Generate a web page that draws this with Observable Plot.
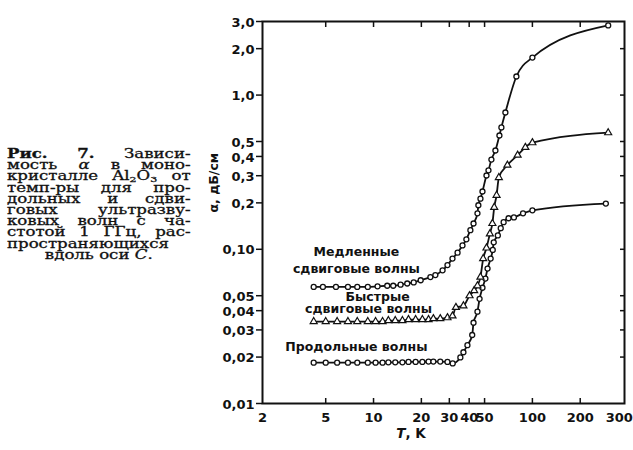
<!DOCTYPE html>
<html><head><meta charset="utf-8">
<script src="https://cdn.jsdelivr.net/npm/d3@7"></script>
<script src="https://cdn.jsdelivr.net/npm/@observablehq/plot@0.6"></script>
<style>
body{margin:0;background:#fff;}
#wrap{position:relative;width:633px;height:450px;overflow:hidden;background:#fff;}
#chart{position:absolute;left:0;top:0;}
#cap{position:absolute;left:7px;top:149px;font-family:"DejaVu Serif",serif;font-size:12px;color:#111;transform-origin:0 0;transform:scaleX(1.38);-webkit-text-stroke:0.3px #111;}
#cap div{width:133px;height:11.2px;line-height:11.2px;white-space:nowrap;text-align:justify;text-align-last:justify;}
#cap div.last{text-align:center;text-align-last:center;}
#cap .sb{font-size:8px;position:relative;top:2px;}
</style></head>
<body>
<div id="wrap"><div id="chart"></div><div id="cap"></div></div>
<script>
// --- data ---
const slowT = [4.2, 4.8, 5.8, 6.9, 7.9, 9.2, 10.6, 12.2, 13.3, 14.8, 16.3, 17.9, 19.8, 22.8, 24.5, 27.2, 29.2, 31.4, 33.8, 36.3, 38.4, 40.7, 42.6, 45.1, 45.7, 47.1, 48.5, 51.4, 52.9, 55.2, 58.5, 62.0, 63.8, 67.6, 79.3, 100, 300];
const slowA = [0.057, 0.057, 0.057, 0.057, 0.057, 0.057, 0.0575, 0.058, 0.058, 0.059, 0.060, 0.061, 0.063, 0.066, 0.068, 0.073, 0.079, 0.087, 0.095, 0.106, 0.116, 0.133, 0.147, 0.171, 0.193, 0.213, 0.237, 0.301, 0.325, 0.382, 0.437, 0.547, 0.617, 0.771, 1.32, 1.75, 2.83];

const fastT = [4.2, 5.0, 5.9, 6.9, 7.9, 9.2, 10.3, 11.4, 12.4, 13.7, 15.2, 16.6, 18.4, 20.3, 22.2, 23.8, 26.3, 29.2, 31.4, 33.0, 36.8, 40.2, 43.0, 45.1, 47.1, 49.0, 51.4, 54.0, 56.0, 57.5, 59.5, 61.5, 69.6, 80.7, 90.3, 100, 300];
const fastA = [0.034, 0.034, 0.034, 0.034, 0.034, 0.034, 0.034, 0.034, 0.0345, 0.0345, 0.0345, 0.035, 0.035, 0.035, 0.035, 0.0355, 0.0355, 0.036, 0.037, 0.042, 0.043, 0.050, 0.054, 0.058, 0.066, 0.087, 0.102, 0.126, 0.147, 0.187, 0.224, 0.292, 0.351, 0.408, 0.458, 0.491, 0.57];

const longT = [4.2, 5.0, 5.9, 6.9, 7.9, 9.2, 10.3, 11.4, 12.4, 13.7, 15.2, 16.6, 18.4, 20.3, 22.2, 23.8, 26.3, 29.2, 31.5, 35.2, 36.8, 39.0, 41.8, 42.6, 45.1, 46.5, 48.5, 50.6, 52.2, 54.6, 56.3, 57.1, 60.6, 63.2, 65.9, 70.8, 76.5, 87.3, 100, 290];
const longA = [0.0184, 0.0184, 0.0184, 0.0184, 0.0184, 0.0184, 0.0184, 0.0184, 0.0185, 0.0185, 0.0185, 0.0186, 0.0186, 0.0186, 0.0187, 0.0187, 0.0187, 0.0186, 0.0182, 0.0199, 0.0215, 0.0239, 0.0278, 0.0334, 0.0394, 0.0477, 0.0563, 0.0646, 0.075, 0.087, 0.099, 0.111, 0.123, 0.137, 0.150, 0.159, 0.161, 0.171, 0.179, 0.198];

const xTicks = [2, 5, 10, 20, 30, 40, 50, 100, 200, 300];
const xTickLabels = ["2", "5", "10", "20", "30", "40", "50", "100", "200", "300"];
const yTicks = [0.01, 0.02, 0.03, 0.04, 0.05, 0.1, 0.2, 0.3, 0.4, 0.5, 1, 2, 3];
const yTickLabels = ["0,01", "0,02", "0,03", "0,04", "0,05", "0,10", "0,2", "0,3", "0,4", "0,5", "1,0", "2,0", "3,0"];

const seriesLabels = [
  {text: "Медленные", T: 7.8, a: 0.0967},
  {text: "сдвиговые волны", T: 7.8, a: 0.075},
  {text: "Быстрые", T: 10.6, a: 0.0487},
  {text: "сдвиговые волны", T: 9.3, a: 0.0407},
  {text: "Продольные волны", T: 7.8, a: 0.0234}
];
const yTitle = "α, дБ/см";
const xTitleVar = "T";
const xTitleUnit = ", K";

const captionLines = [
  "<b>Рис.</b> <b>7.</b> Зависи-",
  "мость <i>α</i> в моно-",
  "кристалле Al<span class='sb'>2</span>O<span class='sb'>3</span> от",
  "темп-ры для про-",
  "дольных и сдви-",
  "говых ультразву-",
  "ковых волн с ча-",
  "стотой 1 ГГц, рас-",
  "пространяющихся",
  "вдоль оси <i>C</i>."
];

// --- build ---
const rows = (T, A) => T.map((t, i) => ({T: t, a: A[i]}));
const slow = rows(slowT, slowA), fast = rows(fastT, fastA), long = rows(longT, longA);
const yLab = yTicks.map((v, i) => ({v, label: yTickLabels[i]}));
const xLab = xTicks.map((v, i) => ({v, label: xTickLabels[i]}));
const xLabMain = xLab.filter(d => d.v !== 300);
const xLabLast = xLab.filter(d => d.v === 300);
const innerX = xTicks.filter(d => d > 2 && d < 300);
const innerY = yTicks.filter(d => d > 0.01 && d < 3);
const none = () => "";
const ink = "#111";

const plot = Plot.plot({
  width: 633, height: 450,
  marginLeft: 262, marginRight: 9, marginTop: 21, marginBottom: 47,
  style: {fontFamily: "'DejaVu Sans', sans-serif", fontSize: "13px", fontWeight: "bold", color: ink, background: "transparent", overflow: "visible"},
  x: {type: "log", domain: [2, 380]},
  y: {type: "log", domain: [0.01, 3]},
  marks: [
    Plot.axisY({ticks: yTicks, tickFormat: none, tickSize: 6, label: null, strokeWidth: 1.5}),
    Plot.text(yLab, {y: "v", text: "label", frameAnchor: "left", textAnchor: "end", lineAnchor: "middle", dx: -8, dy: 1, fill: ink}),
    Plot.axisY({anchor: "right", ticks: innerY, tickFormat: none, tickSize: 5, dx: -5, label: null, strokeWidth: 1.5}),
    Plot.axisX({anchor: "top", ticks: innerX, tickFormat: none, tickSize: 5, dy: 5, label: null, strokeWidth: 1.5}),
    Plot.axisX({anchor: "bottom", ticks: innerX, tickFormat: none, tickSize: 5, dy: -5, label: null, strokeWidth: 1.5}),
    Plot.text(xLabMain, {x: "v", text: "label", frameAnchor: "bottom", lineAnchor: "middle", dy: 14, fill: ink}),
    Plot.text(xLabLast, {x: "v", text: "label", frameAnchor: "bottom", lineAnchor: "middle", dy: 14, dx: 11, fill: ink}),
    Plot.frame({stroke: ink, strokeWidth: 2}),
    Plot.line(slow, {x: "T", y: "a", curve: "monotone-x", stroke: ink, strokeWidth: 1.8}),
    Plot.line(fast, {x: "T", y: "a", curve: "monotone-x", stroke: ink, strokeWidth: 1.8}),
    Plot.line(long, {x: "T", y: "a", curve: "monotone-x", stroke: ink, strokeWidth: 1.8}),
    Plot.dot(slow, {x: "T", y: "a", r: 2.5, fill: "white", stroke: ink, strokeWidth: 1.3}),
    Plot.dot(long, {x: "T", y: "a", r: 2.5, fill: "white", stroke: ink, strokeWidth: 1.3}),
    Plot.dot(fast, {x: "T", y: "a", r: 2.6, symbol: "triangle", fill: "white", stroke: ink, strokeWidth: 1.2}),
    Plot.text(seriesLabels, {x: "T", y: "a", text: "text", fontSize: 12.5, fill: ink, stroke: "white", strokeWidth: 2, paintOrder: "stroke"}),
    Plot.text([yTitle], {frameAnchor: "left", dx: -49, rotate: -90, text: d => d, fontSize: 12.5, fill: ink}),
    Plot.text([xTitleVar], {frameAnchor: "bottom", lineAnchor: "middle", dx: -38, dy: 30, textAnchor: "end", fontStyle: "italic", text: d => d, fontSize: 13.5, fill: ink}),
    Plot.text([xTitleUnit], {frameAnchor: "bottom", lineAnchor: "middle", dx: -38, dy: 30, textAnchor: "start", text: d => d, fontSize: 13.5, fill: ink})
  ]
});
document.getElementById("chart").appendChild(plot);

const cap = document.getElementById("cap");
captionLines.forEach((l, i) => {
  const d = document.createElement("div");
  if (i === captionLines.length - 1) d.className = "last";
  d.innerHTML = l;
  cap.appendChild(d);
});
</script>
</body></html>
